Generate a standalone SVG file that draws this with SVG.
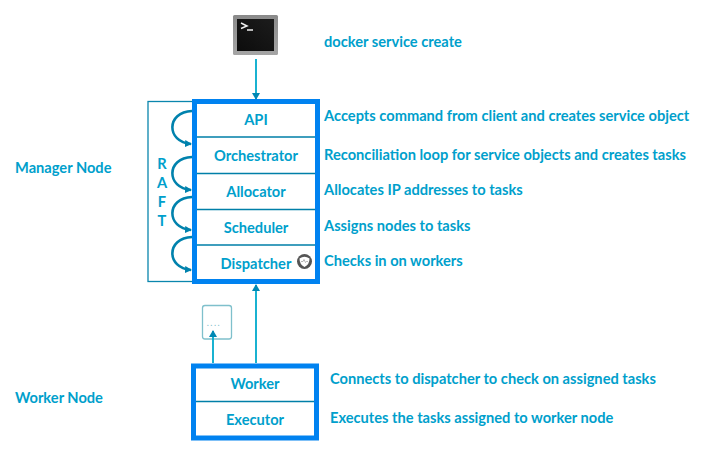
<svg xmlns="http://www.w3.org/2000/svg" width="714" height="450" viewBox="0 0 714 450">
<style>
text{font-family:Lato,"Open Sans","Liberation Sans",sans-serif;fill:#009fcc;font-size:14.650px;font-weight:700}
.c{text-anchor:middle}
.box{fill:#fff;stroke:#0082f0;stroke-width:5}
.div{stroke:#007fa8;stroke-width:1.500;fill:none}
.arr{stroke:#00aacc;stroke-width:1.800;fill:none;marker-end:url(#a)}
.arc{stroke:#0082ad;stroke-width:2.600;fill:none;marker-end:url(#b)}
</style>
<defs>
<marker id="a" markerUnits="userSpaceOnUse" markerWidth="8" markerHeight="8" refX="6" refY="4" orient="auto"><path d="M0 0L7 4L0 8Z" fill="#0088b4"/></marker>
<marker id="b" markerUnits="userSpaceOnUse" markerWidth="8" markerHeight="8" refX="6" refY="4" orient="auto"><path d="M0 0.500L7 4L0 7.500Z" fill="#0082ad"/></marker>
<linearGradient id="t" x1="0" y1="0" x2="0" y2="1"><stop offset="0" stop-color="#8a8a8a"/><stop offset="1" stop-color="#a5a5a5"/></linearGradient>
<linearGradient id="s" x1="0" y1="1" x2="1" y2="0"><stop offset="0" stop-color="#0c0c0c"/><stop offset="1" stop-color="#1c1c1c"/></linearGradient>
</defs>
<g id="terminal">
<rect x="233" y="15" width="45" height="40" rx="1.500" fill="url(#t)"/>
<rect x="237" y="19" width="37" height="32" fill="url(#s)"/>
<path d="M241 23L247 26L241 28.500" fill="none" stroke="#eee" stroke-width="1.500"/>
<path d="M247 30H253" stroke="#eee" stroke-width="1.500"/>
</g>
<g id="raft">
<rect x="148" y="101.500" width="46" height="180" fill="none" stroke="#0a86ad" stroke-width="1.300"/>
<text class="c" x="162" y="169">R</text>
<text class="c" x="162" y="188">A</text>
<text class="c" x="162" y="207">F</text>
<text class="c" x="162" y="226">T</text>
</g>
<g id="manager-node">
<rect class="box" x="194.500" y="101.500" width="123" height="180"/>
<path class="div" d="M197 137H315M197 173.500H315M197 209.500H315M197 245H315"/>
<text class="c" x="256" y="125">API</text>
<text class="c" x="256" y="161">Orchestrator</text>
<text class="c" x="256" y="197">Allocator</text>
<text class="c" x="256" y="233">Scheduler</text>
<text class="c" x="256" y="269">Dispatcher</text>
</g>
<g id="dispatcher-badge">
<circle cx="304.500" cy="261.500" r="7.500" fill="#555"/>
<path d="M299.500 258.500Q304.500 255 309.500 258.500Q309.500 264.500 304.500 267Q299.500 264.500 299.500 258.500Z" fill="#fff"/>
<path d="M301 261.500H303L304 259.500L305.500 262.500L306.500 261.500H308" fill="none" stroke="#999" stroke-width=".7"/>
</g>
<g id="worker-node">
<rect class="box" x="193.500" y="366" width="123" height="72"/>
<path class="div" d="M196 401.500H314"/>
<text class="c" x="255" y="389">Worker</text>
<text class="c" x="255" y="425">Executor</text>
</g>
<g id="task">
<rect x="202.500" y="305.500" width="29" height="33.500" rx="2.500" fill="#fff" stroke="#7fc0cc" stroke-width="1.300"/>
<text class="c" x="214" y="326" style="font-size:9px;font-weight:400;fill:#7fc0cc;letter-spacing:1.500px">....</text>
</g>
<g id="connectors">
<path class="arr" d="M256 59V99"/>
<path class="arr" d="M256 363V285"/>
<path class="arr" d="M213 363V331"/>
<path class="arc" d="M192 111C166 112 166 142 191 144"/>
<path class="arc" d="M192 157C166 158 166 188 191 190"/>
<path class="arc" d="M192 197C166 198 166 228 191 230"/>
<path class="arc" d="M192 237C166 238 166 268 191 270"/>
</g>
<g id="labels">
<text x="324" y="47">docker service create</text>
<text x="324" y="121">Accepts command from client and creates service object</text>
<text x="324" y="160">Reconciliation loop for service objects and creates tasks</text>
<text x="324" y="195">Allocates IP addresses to tasks</text>
<text x="324" y="231">Assigns nodes to tasks</text>
<text x="324" y="266">Checks in on workers</text>
<text x="330" y="384">Connects to dispatcher to check on assigned tasks</text>
<text x="330" y="423">Executes the tasks assigned to worker node</text>
<text x="15" y="173">Manager Node</text>
<text x="15" y="403">Worker Node</text>
</g>
</svg>
